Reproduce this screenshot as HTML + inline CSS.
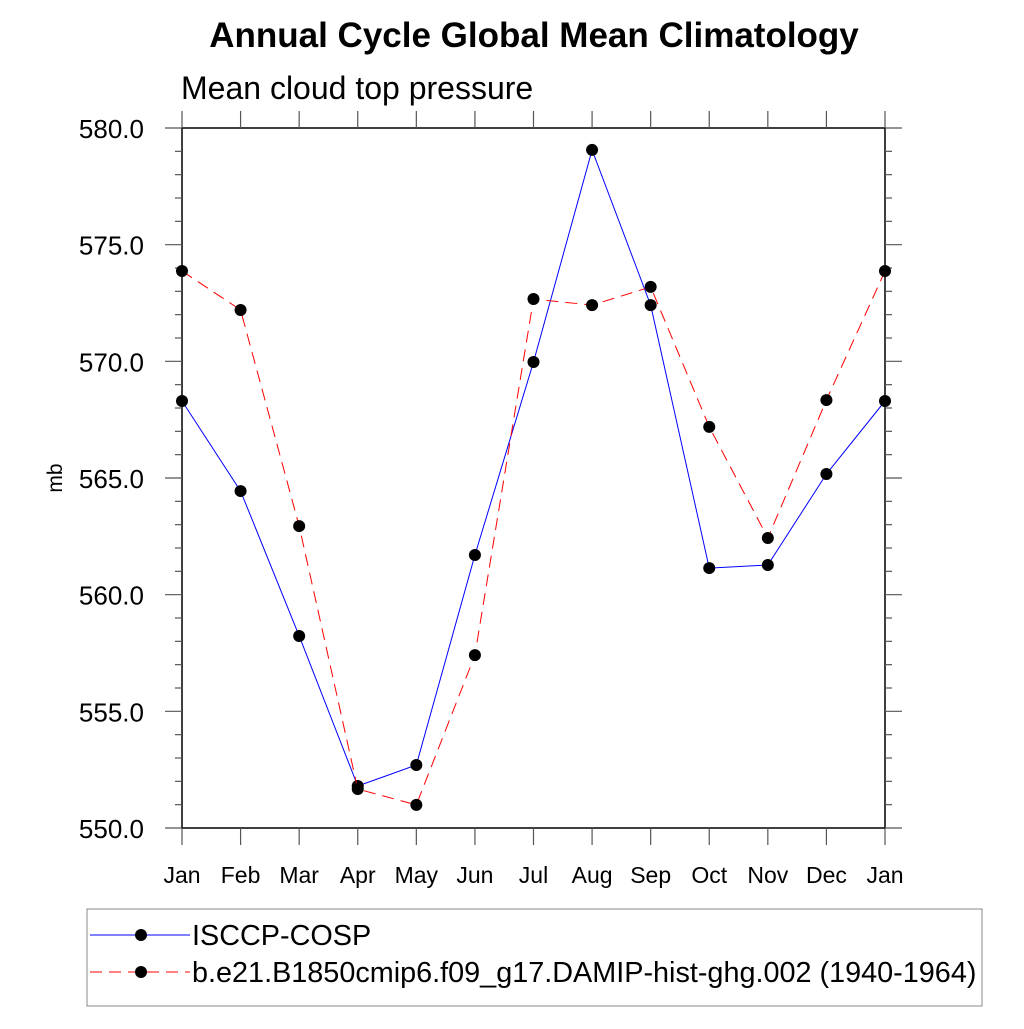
<!DOCTYPE html>
<html><head><meta charset="utf-8"><style>
body{margin:0;background:#fff;font-family:"Liberation Sans",sans-serif}
</style></head><body>
<svg width="1024" height="1024" xmlns="http://www.w3.org/2000/svg" font-family="Liberation Sans, sans-serif">
<text x="534" y="47" font-size="35" font-weight="bold" text-anchor="middle">Annual Cycle Global Mean Climatology</text>
<text x="181" y="99" font-size="32">Mean cloud top pressure</text>
<text transform="translate(62,478) rotate(-90)" font-size="21" text-anchor="middle">mb</text>
<g id="axes"></g>
<g id="series"></g>
<rect x="87" y="909" width="895" height="97" fill="none" stroke="#888" stroke-width="1"/>
<g>
<line x1="90" y1="935" x2="190" y2="935" stroke="#00f" stroke-width="1"/>
<circle cx="141" cy="935" r="6" fill="#000"/>
<text x="192" y="945" font-size="28.8">ISCCP-COSP</text></g>
<g>
<line x1="90" y1="972" x2="190" y2="972" stroke="#f00" stroke-width="1" stroke-dasharray="12,7"/>
<circle cx="141" cy="972" r="6" fill="#000"/>
<text x="192" y="982" font-size="28.8">b.e21.B1850cmip6.f09_g17.DAMIP-hist-ghg.002 (1940-1964)</text></g>
</svg>
<script>
const months=["Jan","Feb","Mar","Apr","May","Jun","Jul","Aug","Sep","Oct","Nov","Dec","Jan"];
const isccp=[568.3,564.44,558.23,551.8,552.7,561.7,569.97,579.06,572.41,561.14,561.27,565.17,568.3];
const model=[573.87,572.2,562.94,551.67,550.99,557.41,572.67,572.41,573.19,567.19,562.43,568.34,573.87];
const yTicks=["550.0","555.0","560.0","565.0","570.0","575.0","580.0"];
const L=182,R=885,T=128,B=828,ymin=550,ymax=580;
const xs=i=>L+(R-L)*i/12;
const ys=v=>B-(v-ymin)/(ymax-ymin)*(B-T);
const NS="http://www.w3.org/2000/svg";
function mk(t,a,p){const e=document.createElementNS(NS,t);for(const k in a)e.setAttribute(k,a[k]);p.appendChild(e);return e;}
const ax=document.getElementById('axes');
const fr=mk('rect',{x:L,y:T,width:R-L,height:B-T,fill:'none',stroke:'#000','stroke-width':1.5},ax);


for(let v=550;v<=580;v++){const y=ys(v);const len=(v%5===0)?17:7;
mk('line',{x1:L-len,y1:y,x2:L,y2:y,stroke:'#555','stroke-width':1.2},ax);
mk('line',{x1:R,y1:y,x2:R+len,y2:y,stroke:'#555','stroke-width':1.2},ax);}
yTicks.forEach(s=>{const t=mk('text',{x:L-38,y:ys(+s)+10,'font-size':26,'text-anchor':'end'},ax);t.textContent=s;

});
months.forEach((m,i)=>{const x=xs(i);
mk('line',{x1:x,y1:B,x2:x,y2:B+17,stroke:'#555','stroke-width':1.2},ax);
mk('line',{x1:x,y1:T-17,x2:x,y2:T,stroke:'#555','stroke-width':1.2},ax);
const t=mk('text',{x:x,y:883,'font-size':23,'text-anchor':'middle'},ax);t.textContent=m;

});
const sg=document.getElementById('series');
function draw(d,col,dash,name){
const p=mk('polyline',{points:d.map((v,i)=>xs(i)+','+ys(v)).join(' '),fill:'none',stroke:col,'stroke-width':1,'stroke-dasharray':dash},sg);


d.forEach((v,i)=>{const c=mk('circle',{cx:xs(i),cy:ys(v),r:6,fill:'#000'},sg);

});}
draw(isccp,'#00f','none','isccp');
draw(model,'#f00','12,7','model');
</script>
</body></html>
